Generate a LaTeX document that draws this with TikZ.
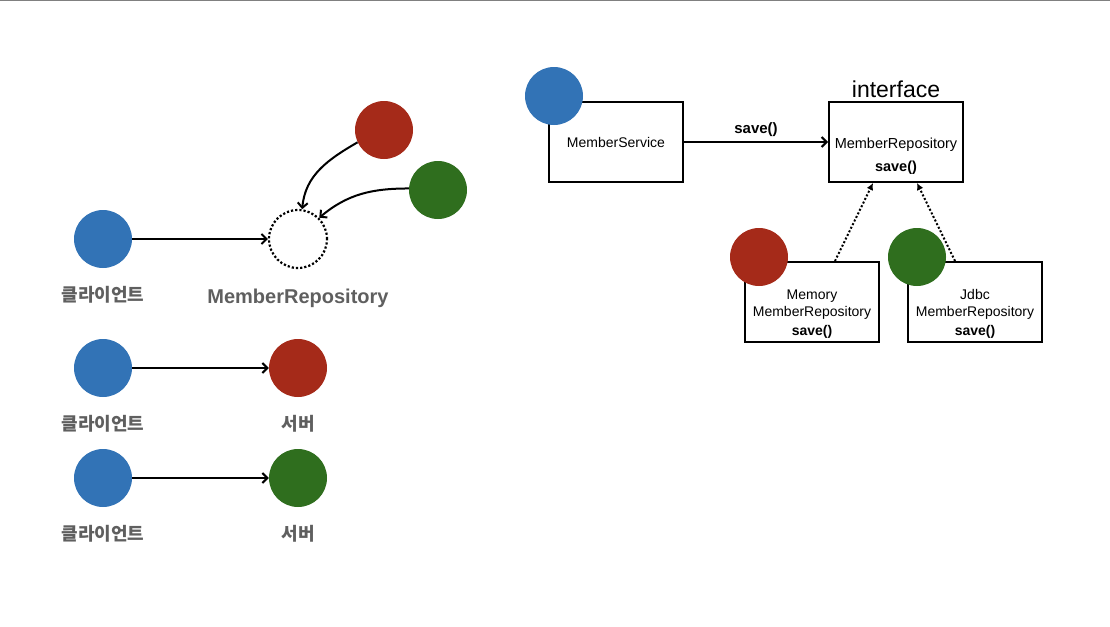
\documentclass[tikz,border=0pt]{standalone}
\usepackage{fontspec}
\setmainfont{Liberation Sans}
\newfontfamily\kofont{Noto Sans CJK KR}
\usetikzlibrary{arrows.meta, positioning}
\definecolor{dotblue}{RGB}{50,115,182}
\definecolor{dotred}{RGB}{165,42,25}
\definecolor{dotgreen}{RGB}{47,110,30}
\definecolor{labelgray}{RGB}{95,95,95}
\definecolor{rulegray}{RGB}{128,128,128}

\begin{document}
\begin{tikzpicture}[
    x=1pt, y=1pt,
    node distance=14pt,
    dot/.style={circle, minimum size=58pt, inner sep=0pt},
    client/.style={dot, fill=dotblue},
    server/.style={dot, fill=#1},
    hollow/.style={dot, draw=black, line width=2.2pt, dotted},
    caption/.style={font=\kofont\bfseries\fontsize{18}{20}\selectfont, text=labelgray},
    cls/.style={rectangle, draw=black, line width=2pt, minimum width=134pt,
                minimum height=80pt, align=center, inner sep=2pt},
    arrow/.style={-{Straight Barb[length=5pt, width=10pt]}, line width=2pt},
    impl/.style={-{Latex[length=7pt, width=7pt]}, line width=2pt, dotted}
]
    \useasboundingbox (0,0) rectangle (1110,-626);
    \draw[rulegray, line width=1.5pt] (0,-0.5) -- (1110,-0.5);

    % client -> MemberRepository (either server)
    \node[client] (cliA) at (103,-239) {};
    \node[hollow] (repo) at (298,-239) {};
    \node[server=dotred] (memA) at (384,-130) {};
    \node[server=dotgreen] (jdbcA) at (438,-190) {};
    \node[caption, below=15pt of cliA] {클라이언트};
    \node[caption, font=\bfseries\fontsize{20}{22}\selectfont, below=16pt of repo] {MemberRepository};
    \draw[arrow] (cliA) -- (repo);
    \draw[arrow] (memA.205) to[out=210, in=85] (repo.82);
    \draw[arrow] (jdbcA.177) to[out=180, in=40] (repo.45);

    % client -> memory server
    \node[client] (cliB) at (103,-368) {};
    \node[server=dotred] (memB) at (298,-368) {};
    \node[caption, below=15pt of cliB] {클라이언트};
    \node[caption, below=15pt of memB] {서버};
    \draw[arrow] (cliB) -- (memB);

    % client -> jdbc server
    \node[client] (cliC) at (103,-478) {};
    \node[server=dotgreen] (jdbcC) at (298,-478) {};
    \node[caption, below=15pt of cliC] {클라이언트};
    \node[caption, below=15pt of jdbcC] {서버};
    \draw[arrow] (cliC) -- (jdbcC);

    % class view
    \node[cls, font=\fontsize{14}{17}\selectfont] (svc) at (616,-142) {MemberService};
    \node[cls, font=\fontsize{14.5}{17}\selectfont] (iface) at (896,-142)
        {\\[23pt]MemberRepository\\[6pt]\textbf{save()}};
    \node[font=\fontsize{23}{25}\selectfont, above=0pt of iface] {interface};
    \node[cls, font=\fontsize{14}{17.5}\selectfont] (mem) at (812,-302)
        {\\[16pt]Memory\\MemberRepository\\[1.5pt]\textbf{save()}};
    \node[cls, font=\fontsize{14}{17.5}\selectfont] (jdbc) at (975,-302)
        {\\[16pt]Jdbc\\MemberRepository\\[1.5pt]\textbf{save()}};
    \node[client] at (svc.north west) [xshift=6pt, yshift=5pt] {};
    \node[server=dotred] at (mem.north west) [xshift=15pt, yshift=4pt] {};
    \node[server=dotgreen] at (jdbc.north west) [xshift=10pt, yshift=4pt] {};

    \draw[arrow] (svc) -- node[above=1pt, font=\bfseries\fontsize{15}{17}\selectfont] {save()} (iface);
    \draw[impl] (mem.north) ++(23,0) coordinate (memtop) -- ([xshift=-23pt]iface.south);
    \draw[impl] (jdbc.north) ++(-20,0) coordinate (jdbctop) -- ([xshift=21pt]iface.south);
\end{tikzpicture}
\end{document}
